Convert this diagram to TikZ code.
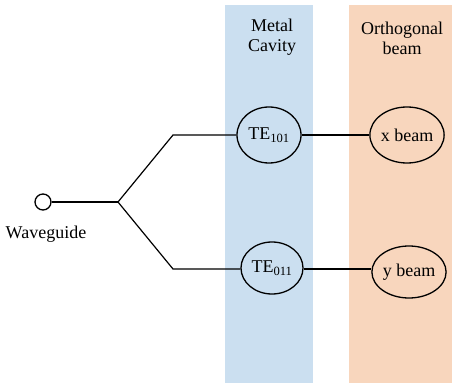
\documentclass[tikz,border=0pt]{standalone}
\usepackage{fontspec}
\setmainfont{Liberation Serif}
\begin{document}
\begin{tikzpicture}[x=1pt,y=-1pt,
  lbl/.style={font=\fontsize{18}{20}\selectfont, align=center},
  ell/.style={draw, line width=1.3pt, ellipse, minimum width=64pt, minimum height=56pt, inner sep=0pt, font=\fontsize{18}{20}\selectfont},
  conn/.style={line width=1.2pt}]
\usetikzlibrary{shapes.geometric}
\useasboundingbox (0,0) rectangle (452,387);
\fill[fill={rgb,255:red,203;green,223;blue,240}] (225,5) rectangle (313,383);
\fill[fill={rgb,255:red,248;green,214;blue,189}] (349,5) rectangle (452,383);
\node[lbl] (mc) at (272,37) {Metal\\Cavity};
\node[lbl] (ob) at (402,38) {Orthogonal\\beam};
\node[draw, circle, line width=1.3pt, minimum size=16pt, inner sep=0pt] (wg) at (43,202) {};
\node[lbl] (wgl) at (46,234) {Waveguide};
\coordinate (j) at (118,202);
\coordinate (u) at (173,135);
\coordinate (d) at (173,269);
\node[ell] (te1) at (269,135) {TE\textsubscript{101}};
\node[ell, minimum height=52pt, minimum width=62pt] (te2) at (272,268) {TE\textsubscript{011}};
\node[ell, minimum width=66pt] (xb) at (407,135) {x beam};
\node[ell, minimum height=52pt] (yb) at (409,272) {y beam};
\draw[conn] (wg) -- (j);
\draw[conn] (j) -- (u) -- (te1);
\draw[conn] (j) -- (d) -- (te2.west |- d);
\draw[conn] (te1) -- (xb);
\draw[conn] (te2.east |- 0,269) -- (yb.west |- 0,269);
\end{tikzpicture}
\end{document}
